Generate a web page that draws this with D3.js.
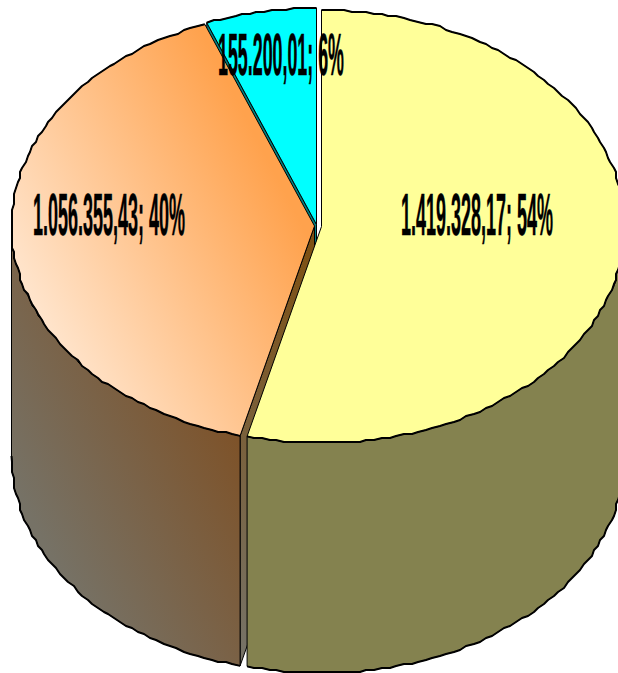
<!DOCTYPE html>
<html>
<head>
<meta charset="utf-8">
<script src="https://cdn.jsdelivr.net/npm/d3@7"></script>
<style>
  html, body { margin: 0; padding: 0; background: #fff; overflow: hidden; }
  svg { display: block; }
</style>
</head>
<body>
<script>
const svgWidth = 618;
const svgHeight = 673;

// values, clockwise from 12 o'clock
const categories = ['yellow', 'orange', 'cyan'];
const values = [1419328.17, 1056355.43, 155200.01];

const rx = 303;
const ry = 216.5;
const depth = 230;
const grid = 2; // the original outline is coarse, snap to this

const centers = {
  yellow: [321.5, 226.5],
  orange: [314.5, 226],
  cyan: [316.5, 224.5]
};
const labelBoxes = {
  yellow: {x: 401, y: 235, w: 152},
  orange: {x: 33, y: 235, w: 152},
  cyan: {x: 218, y: 75, w: 126}
};

const svg = d3.select('body')
              .append('svg')
              .attr('width', svgWidth)
              .attr('height', svgHeight);

const defs = svg.append('defs');

function addGradient(id, p, stops) {
  const g = defs.append('linearGradient')
      .attr('id', id)
      .attr('gradientUnits', 'userSpaceOnUse')
      .attr('x1', p[0]).attr('y1', p[1])
      .attr('x2', p[2]).attr('y2', p[3]);
  stops.forEach((c, i) => g.append('stop')
      .attr('offset', i / (stops.length - 1))
      .attr('stop-color', c));
}
addGradient('orangeTop', [60, 370, 310, 240], ['#ffe6cf', '#ffa24d']);
addGradient('orangeWall', [45, 545, 245, 441], ['#767266', '#7e5228']);
addGradient('orangeEdge', [240, 650, 320, 230], ['#767266', '#7e4f10']);

const pie = d3.pie().sort(null).value(d => d);
const slices = pie(values);
const byName = {};
categories.forEach((c, i) => byName[c] = slices[i]);

function pt(name, a, dy = 0) {
  const c = centers[name];
  return [c[0] + rx * Math.sin(a), c[1] - ry * Math.cos(a) + dy];
}
function snap(p) {
  return [Math.round(p[0] / grid) * grid, Math.round(p[1] / grid) * grid];
}
function arcPoints(name, a0, a1, dy = 0) {
  const n = Math.max(2, Math.round(Math.abs(a1 - a0) / 0.025));
  const pts = d3.range(n + 1).map(i => snap(pt(name, a0 + (a1 - a0) * i / n, dy)));
  pts[0] = pt(name, a0, dy);
  pts[n] = pt(name, a1, dy);
  return pts;
}

const line = d3.line();

function drawFace(points, fill) {
  svg.append('path')
      .attr('d', line(points) + 'Z')
      .attr('fill', fill)
      .attr('stroke', '#000')
      .attr('stroke-width', 1)
      .attr('stroke-linejoin', 'round');
}
function drawOutline(points) {
  svg.append('path')
      .attr('d', line(points))
      .attr('fill', 'none')
      .attr('stroke', '#000')
      .attr('stroke-width', 2)
      .attr('stroke-linejoin', 'round');
}
function drawTop(name, fill) {
  const s = byName[name];
  const arc = arcPoints(name, s.startAngle, s.endAngle);
  drawFace([centers[name]].concat(arc), fill);
  drawOutline(arc);
}
function drawRound(name, a0, a1, fill) {
  const top = arcPoints(name, a0, a1);
  const bottom = arcPoints(name, a0, a1, depth);
  drawFace(top.concat(bottom.slice().reverse()), fill);
  drawOutline(bottom);
}
function drawRadial(name, a, fill) {
  const c = centers[name];
  const e = pt(name, a);
  drawFace([c, e, [e[0], e[1] + depth], [c[0], c[1] + depth]], fill);
}

// back to front
const o = byName.orange;
const cy = byName.cyan;
drawRadial('cyan', cy.startAngle, '#008080');
drawTop('cyan', '#00ffff');

drawRadial('orange', o.startAngle, 'url(#orangeEdge)');
drawRound('orange', o.startAngle, Math.PI * 1.5, 'url(#orangeWall)');
drawTop('orange', 'url(#orangeTop)');

const y = byName.yellow;
drawRound('yellow', Math.PI / 2, y.endAngle, '#84824f');
drawTop('yellow', '#ffff99');

// labels like 1.419.328,17; 54%
const numFormat = d3.formatLocale({decimal: ',', thousands: '.', grouping: [3], currency: ['', '']}).format(',.2f');
const total = d3.sum(values);

svg.selectAll('text.label')
  .data(categories)
  .enter().append('text')
    .attr('class', 'label')
    .attr('font-family', '"Liberation Sans", Arial, sans-serif')
    .attr('font-weight', 'bold')
    .attr('font-size', 60)
    .attr('fill', '#000')
    .attr('stroke', '#000')
    .attr('stroke-width', 0.5)
    .text((d, i) => numFormat(values[i]) + '; ' + Math.round(values[i] / total * 100) + '%')
    .attr('transform', function(d) {
      // squeeze the wide bold text sideways into the width it has in the original
      const b = labelBoxes[d];
      return `translate(${b.x},${b.y}) scale(${b.w / this.getComputedTextLength()},1)`;
    });
</script>
</body>
</html>
